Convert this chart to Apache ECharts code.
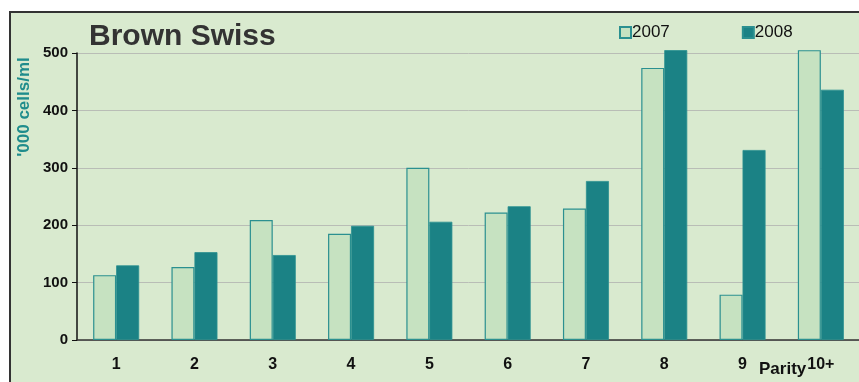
<!DOCTYPE html>
<html>
<head>
<meta charset="utf-8">
<script src="https://cdn.jsdelivr.net/npm/echarts@6/dist/echarts.min.js"></script>
<style>
  html, body { margin: 0; padding: 0; background: #fff; }
  #chart { width: 859px; height: 382px; }
</style>
</head>
<body>
<div id="chart"></div>
<script>
(function () {
    var parity = ['1', '2', '3', '4', '5', '6', '7', '8', '9', '10+'];
    var y2007 = [113, 127, 209, 185, 300, 222, 229, 474, 79, 505];
    var y2008 = [130, 153, 148, 199, 206, 233, 277, 505, 331, 436];
    var yTicks = [0, 100, 200, 300, 400, 500];

    var myChart = echarts.init(document.getElementById('chart'));
    var option = {
        backgroundColor: '#fff',
        animation: false,
        graphic: [
            {
                type: 'rect',
                z: -10,
                shape: { x: 10, y: 12, width: 900, height: 400 },
                style: { fill: '#d9eacf', stroke: '#333', lineWidth: 2 }
            },
            {
                type: 'text',
                left: 759,
                top: 361,
                style: { text: 'Parity', font: 'bold 17px Liberation Sans', fill: '#111' }
            },
            {
                // y axis title, rotated
                type: 'text',
                x: 24,
                y: 107,
                rotation: Math.PI / 2,
                style: {
                    text: "'000 cells/ml", font: 'bold 17px Liberation Sans', fill: '#1f8c8c',
                    align: 'center', verticalAlign: 'middle'
                }
            }
        ],
        title: {
            text: 'Brown Swiss',
            left: 84,
            top: 17,
            textStyle: { color: '#333', fontSize: 30, fontWeight: 'bold', fontFamily: 'Liberation Sans' }
        },
        legend: {
            data: ['2007', '2008'],
            top: 19,
            left: 614,
            itemGap: 72,
            itemWidth: 11,
            itemHeight: 11,
            icon: 'rect',
            textStyle: { fontSize: 17, color: '#111', fontFamily: 'Liberation Sans', padding: [0, 0, 0, -4] }
        },
        grid: { left: 77, right: -1, top: 53, bottom: 42, outerBoundsMode: 'none' },
        xAxis: {
            type: 'category',
            data: parity,
            axisLine: { lineStyle: { color: '#333', width: 1.5 } },
            axisTick: { length: 4, lineStyle: { color: '#333' } },
            axisLabel: { color: '#111', fontSize: 16, fontWeight: 'bold', fontFamily: 'Liberation Sans', margin: 17 }
        },
        yAxis: {
            type: 'value',
            min: yTicks[0],
            max: yTicks[yTicks.length - 1],
            interval: 100,
            axisLine: { show: true, lineStyle: { color: '#111', width: 1.5 } },
            axisTick: { show: true, length: 5, lineStyle: { color: '#111' } },
            axisLabel: { color: '#111', fontSize: 15, fontWeight: 'bold', fontFamily: 'Liberation Sans', margin: 9 },
            splitLine: { lineStyle: { color: '#b9bdb6' } }
        },
        series: [
            {
                name: '2007',
                type: 'bar',
                clip: false,
                data: y2007,
                barWidth: 23,
                barGap: '0%',
                itemStyle: { color: '#c6e2c1', borderColor: '#2b9090', borderWidth: 1.2 }
            },
            {
                name: '2008',
                type: 'bar',
                clip: false,
                data: y2008,
                barWidth: 23,
                itemStyle: { color: '#1b8285', borderColor: '#2b9090', borderWidth: 0.8 }
            }
        ]
    };
    myChart.setOption(option);
})();
</script>
</body>
</html>
